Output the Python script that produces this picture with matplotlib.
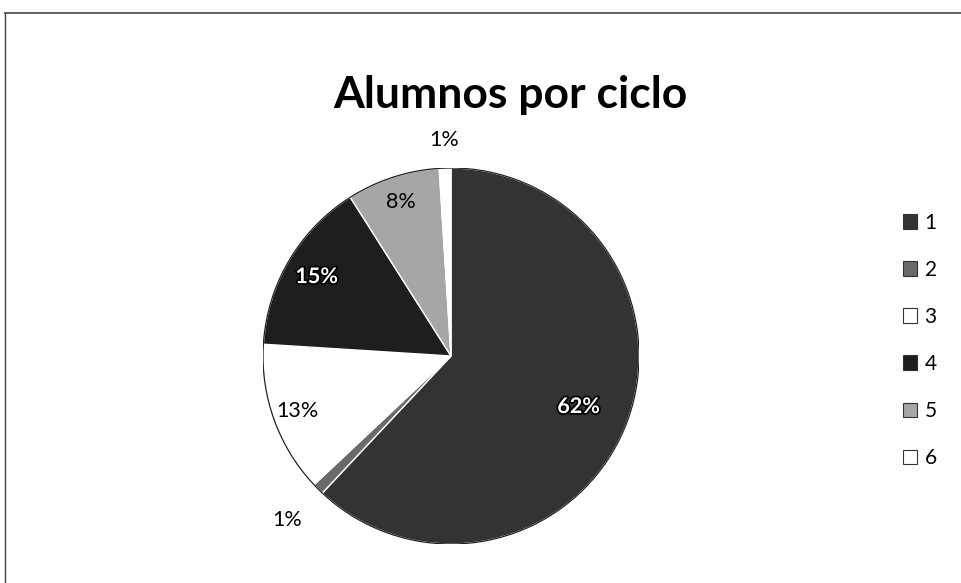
import matplotlib
matplotlib.use("Agg")
import matplotlib.pyplot as plt
import matplotlib.patheffects as pe
import numpy as np

# datos
ciclos = ["1", "2", "3", "4", "5", "6"]
porcentajes = [62, 1, 13, 15, 8, 1]
etiquetas = ["62%", "1%", "13%", "15%", "8%", "1%"]

colores = ["#333333", "#6a6a6a", "#ffffff", "#1e1e1e", "#a6a6a6", "#ffffff"]
dist_etiq = [0.73, 1.23, 0.87, 0.83, 0.86, 1.15]
texto_blanco = [True, False, False, True, False, False]

plt.rcParams['font.family'] = ['Lato', 'DejaVu Sans']

fig = plt.figure(figsize=(9.61, 5.83), dpi=100)
W, H = 961., 583.

# marco (solo arriba e izquierda se ven en la imagen)
fig.add_artist(plt.Line2D([5/W, 1], [1-13/H, 1-13/H], color='#444444', lw=1.2))
fig.add_artist(plt.Line2D([5/W, 5/W], [1-13/H, 0], color='#444444', lw=1.0))

fig.text(510/W, 1-95/H, "Alumnos por ciclo", ha='center', va='center',
         fontsize=32, fontweight='bold')

ax = fig.add_axes([263/W, (H-544)/H, 376/W, 376/H])
wedges, _ = ax.pie(porcentajes, colors=colores, startangle=90, counterclock=False,
                   wedgeprops=dict(edgecolor='white', linewidth=1.0))
ax.add_patch(plt.Circle((0, 0), 1.0, fill=False, edgecolor='#222222', lw=0.9))

for w, txt, d, blanco in zip(wedges, etiquetas, dist_etiq, texto_blanco):
    ang = np.deg2rad((w.theta1 + w.theta2) / 2.)
    x, y = d * np.cos(ang), d * np.sin(ang)
    if blanco:
        ax.text(x, y, txt, ha='center', va='center', fontsize=15.5, color='white',
                fontweight='bold',
                path_effects=[pe.withStroke(linewidth=2.5, foreground='black')])
    else:
        ax.text(x, y, txt, ha='center', va='center', fontsize=15.5, color='black')

ax.set_xlim(-1, 1)
ax.set_ylim(-1, 1)
ax.set_aspect('equal')
ax.axis('off')

leg = fig.legend(wedges, ciclos, loc='upper left', bbox_to_anchor=(884/W, 1-194/H),
                 frameon=False, fontsize=15, labelspacing=1.3,
                 handlelength=0.7, handleheight=0.7, handletextpad=0.35)
for hnd in leg.legend_handles:
    hnd.set_edgecolor('#333333')
    hnd.set_linewidth(0.8)

fig.savefig("out.png", dpi=100)
